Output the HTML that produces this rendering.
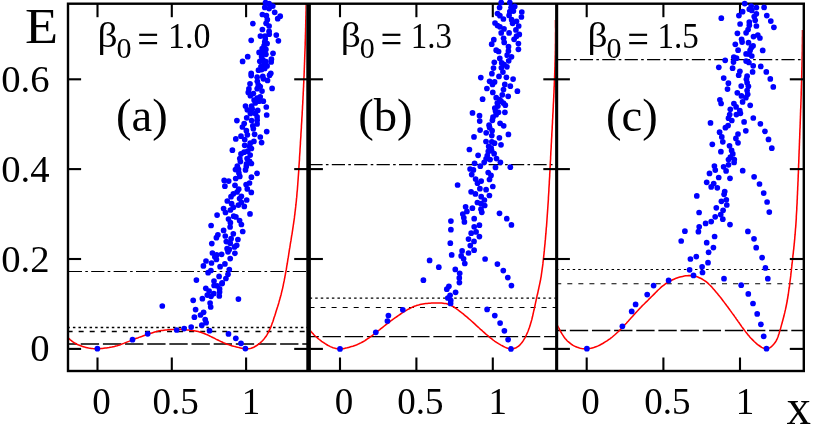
<!DOCTYPE html>
<html><head><meta charset="utf-8"><title>chart</title>
<style>
html,body{margin:0;padding:0;background:#fff;}
svg{display:block;font-family:"Liberation Serif",serif;}
</style></head><body>
<svg width="814" height="427" viewBox="0 0 814 427">
<rect x="0" y="0" width="814" height="427" fill="#fff"/>
<defs>
<clipPath id="ca"><rect x="69.0" y="3.7" width="237.4" height="367.3"/></clipPath>
<clipPath id="cb"><rect x="311.0" y="3.7" width="244.2" height="367.3"/></clipPath>
<clipPath id="cc"><rect x="558.15" y="3.7" width="244.6" height="367.3"/></clipPath>
</defs>
<line x1="68.0" y1="344.0" x2="308.6" y2="344.0" stroke="#000" stroke-width="1.35" stroke-dasharray="18.35 3.8" stroke-dashoffset="9.4"/>
<line x1="68.0" y1="331.45" x2="308.6" y2="331.45" stroke="#000" stroke-width="1.4" stroke-dasharray="5 6.05" stroke-dashoffset="0.4"/>
<line x1="68.0" y1="327.5" x2="308.6" y2="327.5" stroke="#000" stroke-width="1.4" stroke-dasharray="2.5 3.06" stroke-dashoffset="0.66"/>
<line x1="68.0" y1="271.5" x2="308.6" y2="271.5" stroke="#000" stroke-width="1.2" stroke-dasharray="13.2 3.3 2.6 3.3" stroke-dashoffset="-0.8"/>
<line x1="308.6" y1="336.6" x2="556.65" y2="336.6" stroke="#000" stroke-width="1.35" stroke-dasharray="18.35 3.8" stroke-dashoffset="8.15"/>
<line x1="308.6" y1="307.45" x2="556.65" y2="307.45" stroke="#000" stroke-width="1.15" stroke-dasharray="5 6.05" stroke-dashoffset="-0.9"/>
<line x1="308.6" y1="298.05" x2="556.65" y2="298.05" stroke="#000" stroke-width="1.15" stroke-dasharray="2.5 3.06" stroke-dashoffset="-1.04"/>
<line x1="308.6" y1="164.7" x2="556.65" y2="164.7" stroke="#000" stroke-width="1.2" stroke-dasharray="13.2 3.3 2.6 3.3" stroke-dashoffset="-0.8"/>
<line x1="556.65" y1="330.5" x2="803.8" y2="330.5" stroke="#000" stroke-width="1.35" stroke-dasharray="18.35 3.8" stroke-dashoffset="9.0"/>
<line x1="556.65" y1="283.65" x2="803.8" y2="283.65" stroke="#000" stroke-width="1.05" stroke-dasharray="5 6.05" stroke-dashoffset="0.4"/>
<line x1="556.65" y1="269.45" x2="803.8" y2="269.45" stroke="#000" stroke-width="1.05" stroke-dasharray="2.5 3.06" stroke-dashoffset="0.66"/>
<line x1="556.65" y1="59.7" x2="803.8" y2="59.7" stroke="#000" stroke-width="1.2" stroke-dasharray="13.2 3.3 2.6 3.3" stroke-dashoffset="-0.8"/>
<path d="M68.0,337.7 L69.0,338.7 L70.0,339.6 L71.1,340.5 L72.2,341.3 L73.3,342.1 L74.5,342.9 L75.7,343.5 L76.9,344.2 L78.1,344.8 L79.4,345.3 L80.7,345.8 L82.0,346.3 L83.3,346.7 L84.6,347.1 L85.9,347.4 L87.3,347.7 L88.6,348.0 L90.0,348.2 L91.4,348.4 L92.7,348.6 L94.1,348.7 L95.5,348.8 L96.8,348.8 L98.2,348.8 L99.6,348.7 L101.0,348.6 L102.3,348.5 L103.7,348.3 L105.1,348.1 L106.4,347.9 L107.8,347.7 L109.1,347.5 L110.5,347.2 L111.8,347.0 L113.2,346.7 L114.5,346.4 L115.8,346.0 L117.2,345.7 L118.5,345.3 L119.8,344.9 L121.1,344.4 L122.4,343.9 L123.7,343.4 L124.9,342.9 L126.2,342.4 L127.5,341.9 L128.8,341.4 L130.0,340.9 L131.3,340.4 L132.6,339.8 L133.9,339.3 L135.1,338.8 L136.4,338.3 L137.7,337.9 L139.0,337.4 L140.3,336.9 L141.6,336.5 L142.9,336.0 L144.2,335.5 L145.5,335.1 L146.8,334.6 L148.1,334.2 L149.4,333.7 L150.7,333.3 L152.0,332.9 L153.3,332.5 L154.6,332.1 L155.9,331.7 L157.3,331.4 L158.6,331.1 L159.9,330.8 L161.3,330.6 L162.6,330.4 L164.0,330.2 L165.4,330.0 L166.7,329.9 L168.1,329.8 L169.5,329.7 L170.9,329.5 L172.2,329.4 L173.6,329.4 L175.0,329.3 L176.3,329.2 L177.7,329.2 L179.1,329.2 L180.5,329.3 L181.8,329.4 L183.2,329.5 L184.6,329.6 L185.9,329.8 L187.3,330.0 L188.7,330.1 L190.0,330.3 L191.4,330.5 L192.8,330.6 L194.1,330.8 L195.5,331.0 L196.8,331.3 L198.2,331.6 L199.5,331.9 L200.8,332.3 L202.1,332.8 L203.4,333.2 L204.7,333.7 L205.9,334.3 L207.2,334.8 L208.5,335.4 L209.7,336.0 L211.0,336.6 L212.2,337.2 L213.4,337.8 L214.7,338.4 L215.9,339.1 L217.2,339.7 L218.4,340.3 L219.6,340.9 L220.9,341.5 L222.1,342.0 L223.4,342.6 L224.6,343.1 L225.9,343.7 L227.2,344.2 L228.5,344.6 L229.7,345.1 L231.0,345.5 L232.3,345.9 L233.7,346.3 L235.0,346.6 L236.3,346.9 L237.7,347.3 L239.0,347.6 L240.4,347.9 L241.7,348.2 L243.1,348.5 L244.5,348.7 L245.8,348.8 L247.2,348.8 L248.5,348.7 L249.9,348.5 L251.2,348.2 L252.5,347.7 L253.8,347.2 L255.0,346.5 L256.3,345.8 L257.4,345.0 L258.6,344.2 L259.7,343.3 L260.7,342.4 L261.7,341.5 L262.7,340.5 L263.6,339.5 L264.5,338.4 L265.3,337.3 L266.1,336.2 L266.8,335.1 L267.5,333.9 L268.2,332.7 L268.8,331.4 L269.4,330.2 L270.0,328.9 L270.6,327.7 L271.1,326.4 L271.6,325.1 L272.0,323.8 L272.5,322.5 L273.0,321.2 L273.4,319.9 L273.8,318.6 L274.2,317.3 L274.7,316.0 L275.1,314.7 L275.5,313.4 L275.9,312.1 L276.3,310.8 L276.7,309.5 L277.1,308.2 L277.6,306.8 L278.0,305.5 L278.4,304.2 L278.8,302.9 L279.1,301.6 L279.5,300.3 L279.9,298.9 L280.3,297.6 L280.6,296.3 L281.0,295.0 L281.3,293.6 L281.6,292.3 L281.9,291.0 L282.3,289.6 L282.6,288.3 L282.9,286.9 L283.2,285.6 L283.4,284.3 L283.7,282.9 L284.0,281.6 L284.3,280.2 L284.5,278.9 L284.8,277.5 L285.0,276.2 L285.3,274.8 L285.5,273.5 L285.8,272.1 L286.0,270.8 L286.3,269.4 L286.5,268.1 L286.7,266.7 L286.9,265.3 L287.2,264.0 L287.4,262.6 L287.6,261.3 L287.8,259.9 L288.0,258.6 L288.3,257.2 L288.5,255.8 L288.7,254.5 L288.9,253.1 L289.1,251.8 L289.3,250.4 L289.5,249.1 L289.8,247.7 L290.0,246.4 L290.2,245.0 L290.4,243.6 L290.6,242.3 L290.9,240.9 L291.1,239.6 L291.3,238.2 L291.5,236.9 L291.7,235.5 L292.0,234.2 L292.2,232.8 L292.4,231.4 L292.6,230.1 L292.8,228.7 L293.0,227.4 L293.2,226.0 L293.4,224.7 L293.6,223.3 L293.8,221.9 L294.0,220.6 L294.2,219.2 L294.4,217.9 L294.5,216.5 L294.7,215.1 L294.9,213.8 L295.0,212.4 L295.2,211.0 L295.4,209.7 L295.5,208.3 L295.7,206.9 L295.8,205.6 L296.0,204.2 L296.1,202.8 L296.3,201.5 L296.4,200.1 L296.5,198.7 L296.7,197.4 L296.8,196.0 L296.9,194.6 L297.0,193.3 L297.1,191.9 L297.3,190.5 L297.4,189.2 L297.5,187.8 L297.6,186.4 L297.7,185.1 L297.8,183.7 L297.9,182.3 L298.0,181.0 L298.1,179.6 L298.2,178.2 L298.3,176.8 L298.4,175.5 L298.5,174.1 L298.6,172.7 L298.7,171.4 L298.8,170.0 L298.9,168.6 L298.9,167.3 L299.0,165.9 L299.1,164.5 L299.2,163.1 L299.3,161.8 L299.4,160.4 L299.5,159.0 L299.5,157.7 L299.6,156.3 L299.7,154.9 L299.8,153.5 L299.9,152.2 L300.0,150.8 L300.0,149.4 L300.1,148.1 L300.2,146.7 L300.3,145.3 L300.4,143.9 L300.4,142.6 L300.5,141.2 L300.6,139.8 L300.7,138.5 L300.8,137.1 L300.9,135.7 L300.9,134.4 L301.0,133.0 L301.1,131.6 L301.2,130.2 L301.3,128.9 L301.4,127.5 L301.4,126.1 L301.5,124.8 L301.6,123.4 L301.7,122.0 L301.8,120.6 L301.8,119.3 L301.9,117.9 L302.0,116.5 L302.1,115.2 L302.2,113.8 L302.2,112.4 L302.3,111.0 L302.4,109.7 L302.5,108.3 L302.5,106.9 L302.6,105.6 L302.7,104.2 L302.8,102.8 L302.8,101.4 L302.9,100.1 L303.0,98.7 L303.0,97.3 L303.1,96.0 L303.2,94.6 L303.2,93.2 L303.3,91.8 L303.4,90.5 L303.4,89.1 L303.5,87.7 L303.6,86.4 L303.6,85.0 L303.7,83.6 L303.8,82.2 L303.8,80.9 L303.9,79.5 L303.9,78.1 L304.0,76.8 L304.1,75.4 L304.1,74.0 L304.2,72.6 L304.2,71.3 L304.3,69.9 L304.3,68.5 L304.4,67.1 L304.4,65.8 L304.5,64.4 L304.5,63.0 L304.6,61.7 L304.6,60.3 L304.7,58.9 L304.7,57.5 L304.8,56.2 L304.8,54.8 L304.9,53.4 L304.9,52.1 L305.0,50.7 L305.0,49.3 L305.1,47.9 L305.1,46.6 L305.2,45.2 L305.2,43.8 L305.2,42.4 L305.3,41.1 L305.3,39.7 L305.4,38.3 L305.4,37.0 L305.4,35.6 L305.5,34.2 L305.5,32.8 L305.6,31.5 L305.6,30.1 L305.6,28.7 L305.7,27.3 L305.7,26.0 L305.7,24.6 L305.8,23.2 L305.8,21.8 L305.8,20.5 L305.9,19.1 L305.9,17.7 L305.9,16.4 L306.0,15.0 L306.0,13.6 L306.0,12.2 L306.1,10.9 L306.1,9.5 L306.1,8.1 L306.1,6.7 L306.2,5.4 L306.2,4.0" fill="none" stroke="#f00" stroke-width="1.55" clip-path="url(#ca)"/>
<path d="M308.4,328.0 L309.2,329.2 L310.1,330.3 L311.0,331.5 L311.9,332.6 L312.9,333.6 L313.9,334.7 L314.9,335.7 L316.0,336.7 L317.1,337.6 L318.2,338.6 L319.3,339.5 L320.5,340.4 L321.6,341.3 L322.8,342.1 L324.0,342.9 L325.2,343.7 L326.5,344.5 L327.7,345.2 L329.0,345.9 L330.3,346.6 L331.6,347.1 L333.0,347.7 L334.4,348.1 L335.8,348.4 L337.2,348.7 L338.7,348.8 L340.1,348.9 L341.5,348.8 L343.0,348.7 L344.4,348.4 L345.8,348.1 L347.2,347.8 L348.6,347.4 L350.0,347.0 L351.4,346.6 L352.8,346.2 L354.2,345.7 L355.6,345.2 L356.9,344.7 L358.2,344.1 L359.5,343.5 L360.8,342.9 L362.1,342.2 L363.4,341.5 L364.6,340.8 L365.8,340.0 L367.0,339.2 L368.2,338.4 L369.4,337.6 L370.6,336.7 L371.8,335.9 L372.9,335.0 L374.1,334.1 L375.2,333.2 L376.3,332.3 L377.5,331.4 L378.6,330.5 L379.8,329.6 L380.9,328.7 L382.0,327.8 L383.2,326.9 L384.3,326.0 L385.4,325.1 L386.6,324.2 L387.7,323.3 L388.8,322.5 L390.0,321.6 L391.1,320.7 L392.3,319.8 L393.5,319.0 L394.6,318.1 L395.8,317.3 L397.0,316.5 L398.2,315.6 L399.4,314.8 L400.6,314.0 L401.8,313.2 L403.0,312.4 L404.2,311.6 L405.5,310.9 L406.7,310.1 L408.0,309.4 L409.3,308.7 L410.6,308.1 L411.9,307.4 L413.2,306.8 L414.5,306.3 L415.9,305.8 L417.2,305.3 L418.6,305.0 L420.0,304.6 L421.4,304.3 L422.9,304.0 L424.3,303.8 L425.7,303.6 L427.2,303.5 L428.6,303.3 L430.1,303.2 L431.5,303.1 L432.9,303.0 L434.4,302.9 L435.8,302.9 L437.3,302.9 L438.7,302.9 L440.2,302.9 L441.6,303.0 L443.1,303.2 L444.5,303.4 L446.0,303.6 L447.4,304.0 L448.7,304.4 L450.1,304.9 L451.4,305.6 L452.6,306.3 L453.9,307.0 L455.1,307.8 L456.3,308.7 L457.5,309.5 L458.6,310.4 L459.8,311.3 L460.9,312.2 L462.1,313.0 L463.2,313.9 L464.3,314.9 L465.4,315.8 L466.5,316.7 L467.6,317.6 L468.7,318.6 L469.8,319.5 L470.9,320.5 L472.0,321.5 L473.0,322.4 L474.1,323.4 L475.2,324.4 L476.2,325.4 L477.3,326.4 L478.4,327.3 L479.4,328.3 L480.5,329.3 L481.6,330.2 L482.7,331.2 L483.7,332.1 L484.8,333.1 L485.9,334.1 L487.0,335.0 L488.1,335.9 L489.2,336.9 L490.3,337.8 L491.5,338.7 L492.6,339.6 L493.8,340.5 L494.9,341.3 L496.1,342.1 L497.3,342.9 L498.5,343.7 L499.8,344.4 L501.0,345.1 L502.3,345.8 L503.6,346.5 L504.9,347.1 L506.3,347.7 L507.6,348.2 L509.0,348.6 L510.4,348.9 L511.9,348.9 L513.3,348.7 L514.7,348.2 L516.1,347.7 L517.4,346.9 L518.6,346.1 L519.7,345.1 L520.7,344.1 L521.6,342.9 L522.5,341.8 L523.3,340.6 L524.0,339.3 L524.8,338.1 L525.5,336.8 L526.1,335.5 L526.7,334.2 L527.3,332.9 L527.9,331.5 L528.4,330.2 L528.9,328.8 L529.4,327.5 L529.9,326.1 L530.3,324.7 L530.7,323.3 L531.1,322.0 L531.5,320.6 L531.9,319.2 L532.2,317.8 L532.6,316.3 L532.9,314.9 L533.2,313.5 L533.5,312.1 L533.8,310.7 L534.2,309.3 L534.5,307.9 L534.8,306.5 L535.1,305.0 L535.4,303.6 L535.7,302.2 L536.0,300.8 L536.3,299.4 L536.6,298.0 L536.9,296.6 L537.2,295.2 L537.6,293.8 L537.9,292.3 L538.2,290.9 L538.5,289.5 L538.8,288.1 L539.1,286.7 L539.4,285.3 L539.7,283.9 L540.0,282.5 L540.3,281.0 L540.6,279.6 L540.8,278.2 L541.1,276.8 L541.3,275.3 L541.5,273.9 L541.7,272.5 L541.9,271.1 L542.1,269.6 L542.3,268.2 L542.5,266.8 L542.7,265.3 L542.9,263.9 L543.0,262.4 L543.2,261.0 L543.3,259.6 L543.5,258.1 L543.7,256.7 L543.8,255.3 L544.0,253.8 L544.1,252.4 L544.3,250.9 L544.4,249.5 L544.5,248.1 L544.7,246.6 L544.8,245.2 L545.0,243.8 L545.1,242.3 L545.2,240.9 L545.4,239.4 L545.5,238.0 L545.6,236.6 L545.7,235.1 L545.9,233.7 L546.0,232.2 L546.1,230.8 L546.2,229.4 L546.3,227.9 L546.5,226.5 L546.6,225.0 L546.7,223.6 L546.8,222.1 L546.9,220.7 L547.0,219.3 L547.1,217.8 L547.2,216.4 L547.3,214.9 L547.4,213.5 L547.5,212.1 L547.6,210.6 L547.7,209.2 L547.8,207.7 L547.9,206.3 L548.0,204.8 L548.1,203.4 L548.2,202.0 L548.3,200.5 L548.4,199.1 L548.4,197.6 L548.5,196.2 L548.6,194.7 L548.7,193.3 L548.8,191.9 L548.9,190.4 L548.9,189.0 L549.0,187.5 L549.1,186.1 L549.2,184.6 L549.3,183.2 L549.3,181.8 L549.4,180.3 L549.5,178.9 L549.6,177.4 L549.7,176.0 L549.7,174.5 L549.8,173.1 L549.9,171.7 L550.0,170.2 L550.0,168.8 L550.1,167.3 L550.2,165.9 L550.3,164.4 L550.3,163.0 L550.4,161.5 L550.5,160.1 L550.6,158.7 L550.6,157.2 L550.7,155.8 L550.8,154.3 L550.8,152.9 L550.9,151.4 L551.0,150.0 L551.1,148.6 L551.2,147.1 L551.2,145.7 L551.3,144.2 L551.4,142.8 L551.5,141.3 L551.5,139.9 L551.6,138.5 L551.7,137.0 L551.8,135.6 L551.8,134.1 L551.9,132.7 L552.0,131.2 L552.1,129.8 L552.2,128.3 L552.2,126.9 L552.3,125.5 L552.4,124.0 L552.5,122.6 L552.5,121.1 L552.6,119.7 L552.7,118.2 L552.8,116.8 L552.8,115.4 L552.9,113.9 L553.0,112.5 L553.1,111.0 L553.1,109.6 L553.2,108.1 L553.3,106.7 L553.3,105.3 L553.4,103.8 L553.5,102.4 L553.6,100.9 L553.6,99.5 L553.7,98.0 L553.8,96.6 L553.8,95.1 L553.9,93.7 L554.0,92.3 L554.0,90.8 L554.1,89.4 L554.1,87.9 L554.2,86.5 L554.3,85.0 L554.3,83.6 L554.4,82.2 L554.4,80.7 L554.5,79.3 L554.6,77.8 L554.6,76.4 L554.7,74.9 L554.7,73.5 L554.8,72.0 L554.8,70.6 L554.9,69.2 L554.9,67.7 L555.0,66.3 L555.0,64.8 L555.0,63.4 L555.1,61.9 L555.1,60.5 L555.2,59.0 L555.2,57.6 L555.2,56.1 L555.3,54.7 L555.3,53.3 L555.3,51.8 L555.4,50.4 L555.4,48.9 L555.4,47.5 L555.4,46.0 L555.4,44.6 L555.5,43.1 L555.5,41.7 L555.5,40.2 L555.5,38.8 L555.5,37.4 L555.5,35.9 L555.5,34.5 L555.5,33.0 L555.6,31.6 L555.6,30.1 L555.6,28.7 L555.5,27.2 L555.5,25.8 L555.5,24.3 L555.5,22.9 L555.5,21.4 L555.5,20.0" fill="none" stroke="#f00" stroke-width="1.55" clip-path="url(#cb)"/>
<path d="M556.6,324.0 L557.3,325.3 L558.1,326.7 L558.8,328.0 L559.5,329.4 L560.2,330.7 L560.9,332.0 L561.7,333.4 L562.5,334.7 L563.3,335.9 L564.2,337.2 L565.1,338.4 L566.1,339.5 L567.1,340.7 L568.2,341.7 L569.4,342.7 L570.6,343.7 L571.8,344.5 L573.1,345.3 L574.5,346.1 L575.9,346.7 L577.3,347.3 L578.8,347.8 L580.2,348.2 L581.7,348.5 L583.3,348.7 L584.8,348.8 L586.3,348.8 L587.8,348.7 L589.3,348.6 L590.8,348.3 L592.3,347.9 L593.8,347.5 L595.2,347.0 L596.6,346.5 L598.1,345.9 L599.5,345.2 L600.8,344.5 L602.2,343.8 L603.5,343.0 L604.8,342.2 L606.1,341.4 L607.4,340.6 L608.6,339.7 L609.9,338.8 L611.1,337.9 L612.3,337.0 L613.4,336.0 L614.6,335.0 L615.7,334.0 L616.8,333.0 L617.9,332.0 L619.0,330.9 L620.1,329.9 L621.2,328.8 L622.2,327.7 L623.3,326.6 L624.3,325.5 L625.3,324.3 L626.4,323.2 L627.4,322.1 L628.4,321.0 L629.4,319.8 L630.4,318.7 L631.4,317.6 L632.5,316.4 L633.5,315.3 L634.5,314.2 L635.5,313.1 L636.5,311.9 L637.6,310.8 L638.6,309.7 L639.6,308.6 L640.7,307.5 L641.7,306.4 L642.8,305.3 L643.9,304.3 L644.9,303.2 L646.0,302.1 L647.1,301.1 L648.2,300.0 L649.2,298.9 L650.3,297.9 L651.4,296.8 L652.5,295.7 L653.6,294.6 L654.6,293.6 L655.7,292.5 L656.8,291.4 L657.9,290.3 L659.0,289.3 L660.1,288.2 L661.2,287.2 L662.4,286.2 L663.6,285.3 L664.8,284.4 L666.0,283.5 L667.3,282.7 L668.6,281.9 L669.9,281.2 L671.2,280.5 L672.6,279.8 L674.0,279.2 L675.4,278.6 L676.9,278.1 L678.3,277.6 L679.8,277.1 L681.2,276.7 L682.7,276.4 L684.2,276.1 L685.7,275.8 L687.2,275.7 L688.8,275.6 L690.3,275.6 L691.8,275.7 L693.3,275.9 L694.8,276.2 L696.3,276.6 L697.8,277.1 L699.2,277.7 L700.6,278.3 L702.0,279.0 L703.3,279.8 L704.5,280.6 L705.8,281.5 L707.0,282.4 L708.1,283.4 L709.2,284.5 L710.3,285.5 L711.4,286.6 L712.4,287.8 L713.4,288.9 L714.4,290.0 L715.4,291.2 L716.4,292.4 L717.4,293.5 L718.3,294.7 L719.3,295.9 L720.2,297.1 L721.2,298.3 L722.1,299.5 L723.0,300.7 L723.9,301.9 L724.8,303.1 L725.7,304.3 L726.6,305.5 L727.6,306.7 L728.5,308.0 L729.4,309.2 L730.2,310.4 L731.1,311.6 L732.0,312.9 L732.9,314.1 L733.8,315.3 L734.7,316.6 L735.6,317.8 L736.4,319.1 L737.3,320.3 L738.2,321.6 L739.1,322.8 L740.0,324.1 L740.8,325.3 L741.7,326.6 L742.6,327.8 L743.5,329.0 L744.4,330.2 L745.3,331.4 L746.2,332.6 L747.2,333.8 L748.1,334.9 L749.1,336.1 L750.0,337.2 L751.0,338.3 L752.1,339.4 L753.1,340.4 L754.2,341.5 L755.3,342.5 L756.5,343.6 L757.7,344.6 L759.0,345.5 L760.4,346.5 L761.7,347.4 L763.1,348.1 L764.5,348.6 L766.0,348.8 L767.4,348.7 L768.8,348.3 L770.1,347.6 L771.4,346.6 L772.6,345.5 L773.7,344.3 L774.7,343.1 L775.6,341.8 L776.4,340.4 L777.0,339.1 L777.6,337.7 L778.2,336.2 L778.6,334.8 L779.1,333.4 L779.5,331.9 L779.9,330.5 L780.4,329.0 L780.8,327.6 L781.2,326.1 L781.6,324.6 L782.0,323.2 L782.4,321.7 L782.8,320.2 L783.2,318.8 L783.6,317.3 L784.0,315.8 L784.3,314.4 L784.7,312.9 L785.0,311.4 L785.4,309.9 L785.7,308.4 L786.0,307.0 L786.3,305.5 L786.6,304.0 L786.9,302.5 L787.2,301.0 L787.4,299.5 L787.7,298.0 L787.9,296.5 L788.2,295.0 L788.4,293.5 L788.6,292.0 L788.8,290.5 L789.0,289.0 L789.3,287.5 L789.5,286.0 L789.7,284.5 L789.8,283.0 L790.0,281.5 L790.2,280.0 L790.4,278.5 L790.6,277.0 L790.8,275.4 L790.9,273.9 L791.1,272.4 L791.3,270.9 L791.4,269.4 L791.6,267.9 L791.8,266.4 L791.9,264.9 L792.1,263.4 L792.3,261.9 L792.4,260.4 L792.6,258.9 L792.8,257.4 L792.9,255.8 L793.1,254.3 L793.3,252.8 L793.4,251.3 L793.6,249.8 L793.8,248.3 L793.9,246.8 L794.1,245.3 L794.2,243.8 L794.4,242.3 L794.5,240.8 L794.7,239.2 L794.8,237.7 L794.9,236.2 L795.1,234.7 L795.2,233.2 L795.3,231.7 L795.4,230.2 L795.5,228.7 L795.7,227.1 L795.8,225.6 L795.9,224.1 L796.0,222.6 L796.1,221.1 L796.2,219.6 L796.3,218.1 L796.3,216.5 L796.4,215.0 L796.5,213.5 L796.6,212.0 L796.7,210.5 L796.8,209.0 L796.8,207.4 L796.9,205.9 L797.0,204.4 L797.1,202.9 L797.1,201.4 L797.2,199.9 L797.3,198.4 L797.3,196.8 L797.4,195.3 L797.5,193.8 L797.5,192.3 L797.6,190.8 L797.7,189.3 L797.7,187.7 L797.8,186.2 L797.9,184.7 L797.9,183.2 L798.0,181.7 L798.1,180.2 L798.1,178.6 L798.2,177.1 L798.2,175.6 L798.3,174.1 L798.4,172.6 L798.4,171.1 L798.5,169.5 L798.5,168.0 L798.6,166.5 L798.6,165.0 L798.7,163.5 L798.8,162.0 L798.8,160.4 L798.9,158.9 L798.9,157.4 L799.0,155.9 L799.0,154.4 L799.1,152.9 L799.1,151.3 L799.2,149.8 L799.3,148.3 L799.3,146.8 L799.4,145.3 L799.4,143.8 L799.5,142.3 L799.5,140.7 L799.6,139.2 L799.7,137.7 L799.7,136.2 L799.8,134.7 L799.8,133.2 L799.9,131.6 L799.9,130.1 L800.0,128.6 L800.1,127.1 L800.1,125.6 L800.2,124.1 L800.2,122.5 L800.3,121.0 L800.3,119.5 L800.4,118.0 L800.4,116.5 L800.5,115.0 L800.5,113.4 L800.6,111.9 L800.6,110.4 L800.7,108.9 L800.8,107.4 L800.8,105.9 L800.9,104.3 L800.9,102.8 L801.0,101.3 L801.0,99.8 L801.1,98.3 L801.1,96.8 L801.2,95.2 L801.2,93.7 L801.2,92.2 L801.3,90.7 L801.3,89.2 L801.4,87.7 L801.4,86.1 L801.5,84.6 L801.5,83.1 L801.6,81.6 L801.6,80.1 L801.6,78.6 L801.7,77.0 L801.7,75.5 L801.8,74.0 L801.8,72.5 L801.8,71.0 L801.9,69.5 L801.9,67.9 L802.0,66.4 L802.0,64.9 L802.0,63.4 L802.1,61.9 L802.1,60.3 L802.1,58.8 L802.1,57.3 L802.2,55.8 L802.2,54.3 L802.2,52.8 L802.3,51.2 L802.3,49.7 L802.3,48.2 L802.3,46.7 L802.3,45.2 L802.4,43.7 L802.4,42.1 L802.4,40.6 L802.4,39.1 L802.4,37.6 L802.5,36.1 L802.5,34.6 L802.5,33.0 L802.5,31.5 L802.5,30.0" fill="none" stroke="#f00" stroke-width="1.55" clip-path="url(#cc)"/>
<g stroke="#000" stroke-width="2.1" fill="none">
<line x1="68.0" y1="348.9" x2="81.1" y2="348.9"/>
<line x1="294.2" y1="348.9" x2="322.9" y2="348.9"/>
<line x1="543.3" y1="348.9" x2="569.9" y2="348.9"/>
<line x1="789.8" y1="348.9" x2="803.8" y2="348.9"/>
<line x1="68.0" y1="259.0" x2="81.1" y2="259.0"/>
<line x1="294.2" y1="259.0" x2="322.9" y2="259.0"/>
<line x1="543.3" y1="259.0" x2="569.9" y2="259.0"/>
<line x1="789.8" y1="259.0" x2="803.8" y2="259.0"/>
<line x1="68.0" y1="169.1" x2="81.1" y2="169.1"/>
<line x1="294.2" y1="169.1" x2="322.9" y2="169.1"/>
<line x1="543.3" y1="169.1" x2="569.9" y2="169.1"/>
<line x1="789.8" y1="169.1" x2="803.8" y2="169.1"/>
<line x1="68.0" y1="79.3" x2="81.1" y2="79.3"/>
<line x1="294.2" y1="79.3" x2="322.9" y2="79.3"/>
<line x1="543.3" y1="79.3" x2="569.9" y2="79.3"/>
<line x1="789.8" y1="79.3" x2="803.8" y2="79.3"/>
<line x1="97.5" y1="371.0" x2="97.5" y2="357.5"/>
<line x1="97.5" y1="3.7" x2="97.5" y2="17.2"/>
<line x1="171.8" y1="371.0" x2="171.8" y2="357.5"/>
<line x1="171.8" y1="3.7" x2="171.8" y2="17.2"/>
<line x1="246.1" y1="371.0" x2="246.1" y2="357.5"/>
<line x1="246.1" y1="3.7" x2="246.1" y2="17.2"/>
<line x1="340.0" y1="371.0" x2="340.0" y2="357.5"/>
<line x1="340.0" y1="3.7" x2="340.0" y2="17.2"/>
<line x1="416.4" y1="371.0" x2="416.4" y2="357.5"/>
<line x1="416.4" y1="3.7" x2="416.4" y2="17.2"/>
<line x1="492.8" y1="371.0" x2="492.8" y2="357.5"/>
<line x1="492.8" y1="3.7" x2="492.8" y2="17.2"/>
<line x1="586.7" y1="371.0" x2="586.7" y2="357.5"/>
<line x1="586.7" y1="3.7" x2="586.7" y2="17.2"/>
<line x1="663.4" y1="371.0" x2="663.4" y2="357.5"/>
<line x1="663.4" y1="3.7" x2="663.4" y2="17.2"/>
<line x1="740.0" y1="371.0" x2="740.0" y2="357.5"/>
<line x1="740.0" y1="3.7" x2="740.0" y2="17.2"/>
</g>
<rect x="68.0" y="3.7" width="735.8" height="367.3" fill="none" stroke="#000" stroke-width="2.4"/>
<line x1="308.6" y1="3.7" x2="308.6" y2="371.0" stroke="#000" stroke-width="4.6"/>
<line x1="556.65" y1="3.7" x2="556.65" y2="371.0" stroke="#000" stroke-width="3.1"/>
<g fill="#00f">
<circle cx="97.4" cy="348.7" r="2.85"/>
<circle cx="132.5" cy="339.7" r="2.85"/>
<circle cx="147.7" cy="333.8" r="2.85"/>
<circle cx="162.3" cy="306.0" r="2.85"/>
<circle cx="176.7" cy="330.0" r="2.85"/>
<circle cx="184.1" cy="328.6" r="2.85"/>
<circle cx="191.2" cy="327.1" r="2.85"/>
<circle cx="209.5" cy="330.7" r="2.85"/>
<circle cx="228.5" cy="333.9" r="2.85"/>
<circle cx="235.8" cy="338.3" r="2.85"/>
<circle cx="241.0" cy="343.3" r="2.85"/>
<circle cx="245.4" cy="348.6" r="2.85"/>
<circle cx="238.4" cy="299.1" r="2.85"/>
<circle cx="193.2" cy="300.3" r="2.85"/>
<circle cx="195.6" cy="309.6" r="2.85"/>
<circle cx="194.4" cy="317.2" r="2.85"/>
<circle cx="200.5" cy="315.0" r="2.85"/>
<circle cx="203.6" cy="312.3" r="2.85"/>
<circle cx="201.8" cy="325.2" r="2.85"/>
<circle cx="205.2" cy="319.6" r="2.85"/>
<circle cx="206.1" cy="322.7" r="2.85"/>
<circle cx="202.4" cy="298.7" r="2.85"/>
<circle cx="210.1" cy="303.0" r="2.85"/>
<circle cx="210.7" cy="307.0" r="2.85"/>
<circle cx="205.8" cy="288.3" r="2.85"/>
<circle cx="209.1" cy="291.1" r="2.85"/>
<circle cx="207.3" cy="295.1" r="2.85"/>
<circle cx="211.0" cy="296.3" r="2.85"/>
<circle cx="213.8" cy="293.6" r="2.85"/>
<circle cx="219.3" cy="296.0" r="2.85"/>
<circle cx="219.6" cy="292.0" r="2.85"/>
<circle cx="219.6" cy="288.9" r="2.85"/>
<circle cx="214.1" cy="285.5" r="2.85"/>
<circle cx="217.1" cy="285.8" r="2.85"/>
<circle cx="222.0" cy="283.6" r="2.85"/>
<circle cx="196.4" cy="280.1" r="2.85"/>
<circle cx="214.0" cy="281.1" r="2.85"/>
<circle cx="222.2" cy="282.9" r="2.85"/>
<circle cx="219.1" cy="276.4" r="2.85"/>
<circle cx="225.9" cy="278.5" r="2.85"/>
<circle cx="228.0" cy="274.3" r="2.85"/>
<circle cx="229.3" cy="269.6" r="2.85"/>
<circle cx="208.1" cy="272.7" r="2.85"/>
<circle cx="210.9" cy="270.5" r="2.85"/>
<circle cx="203.4" cy="265.9" r="2.85"/>
<circle cx="206.0" cy="261.0" r="2.85"/>
<circle cx="211.5" cy="263.0" r="2.85"/>
<circle cx="220.1" cy="266.7" r="2.85"/>
<circle cx="224.9" cy="263.9" r="2.85"/>
<circle cx="230.2" cy="258.6" r="2.85"/>
<circle cx="216.4" cy="259.4" r="2.85"/>
<circle cx="214.8" cy="256.7" r="2.85"/>
<circle cx="216.7" cy="254.9" r="2.85"/>
<circle cx="212.4" cy="253.0" r="2.85"/>
<circle cx="221.6" cy="254.3" r="2.85"/>
<circle cx="211.8" cy="243.6" r="2.85"/>
<circle cx="228.0" cy="251.8" r="2.85"/>
<circle cx="227.1" cy="248.7" r="2.85"/>
<circle cx="229.3" cy="249.4" r="2.85"/>
<circle cx="234.9" cy="253.3" r="2.85"/>
<circle cx="234.5" cy="246.9" r="2.85"/>
<circle cx="236.7" cy="245.3" r="2.85"/>
<circle cx="226.3" cy="241.6" r="2.85"/>
<circle cx="230.2" cy="243.2" r="2.85"/>
<circle cx="231.1" cy="238.7" r="2.85"/>
<circle cx="237.9" cy="239.5" r="2.85"/>
<circle cx="225.3" cy="236.0" r="2.85"/>
<circle cx="216.4" cy="237.7" r="2.85"/>
<circle cx="217.9" cy="234.8" r="2.85"/>
<circle cx="233.3" cy="233.8" r="2.85"/>
<circle cx="211.1" cy="225.5" r="2.85"/>
<circle cx="217.1" cy="215.1" r="2.85"/>
<circle cx="223.6" cy="230.4" r="2.85"/>
<circle cx="230.1" cy="227.0" r="2.85"/>
<circle cx="242.7" cy="231.5" r="2.85"/>
<circle cx="228.5" cy="219.0" r="2.85"/>
<circle cx="230.4" cy="222.7" r="2.85"/>
<circle cx="233.7" cy="216.2" r="2.85"/>
<circle cx="235.9" cy="216.9" r="2.85"/>
<circle cx="239.6" cy="220.6" r="2.85"/>
<circle cx="241.4" cy="224.5" r="2.85"/>
<circle cx="250.0" cy="213.9" r="2.85"/>
<circle cx="223.6" cy="208.6" r="2.85"/>
<circle cx="225.5" cy="212.5" r="2.85"/>
<circle cx="230.4" cy="210.0" r="2.85"/>
<circle cx="233.4" cy="207.3" r="2.85"/>
<circle cx="231.6" cy="203.7" r="2.85"/>
<circle cx="227.3" cy="201.0" r="2.85"/>
<circle cx="238.4" cy="205.1" r="2.85"/>
<circle cx="244.3" cy="206.4" r="2.85"/>
<circle cx="241.4" cy="202.4" r="2.85"/>
<circle cx="246.7" cy="200.0" r="2.85"/>
<circle cx="239.6" cy="198.5" r="2.85"/>
<circle cx="241.4" cy="196.3" r="2.85"/>
<circle cx="231.0" cy="196.7" r="2.85"/>
<circle cx="233.4" cy="193.8" r="2.85"/>
<circle cx="237.1" cy="192.0" r="2.85"/>
<circle cx="238.7" cy="189.2" r="2.85"/>
<circle cx="224.9" cy="186.2" r="2.85"/>
<circle cx="235.0" cy="185.3" r="2.85"/>
<circle cx="247.3" cy="188.9" r="2.85"/>
<circle cx="251.3" cy="192.4" r="2.85"/>
<circle cx="246.1" cy="184.5" r="2.85"/>
<circle cx="249.5" cy="183.0" r="2.85"/>
<circle cx="224.2" cy="180.4" r="2.85"/>
<circle cx="228.7" cy="181.1" r="2.85"/>
<circle cx="235.7" cy="178.5" r="2.85"/>
<circle cx="251.4" cy="177.2" r="2.85"/>
<circle cx="257.0" cy="173.3" r="2.85"/>
<circle cx="239.8" cy="176.4" r="2.85"/>
<circle cx="238.9" cy="173.1" r="2.85"/>
<circle cx="235.5" cy="169.6" r="2.85"/>
<circle cx="238.5" cy="169.4" r="2.85"/>
<circle cx="237.3" cy="166.2" r="2.85"/>
<circle cx="245.5" cy="169.9" r="2.85"/>
<circle cx="246.3" cy="166.6" r="2.85"/>
<circle cx="246.5" cy="163.9" r="2.85"/>
<circle cx="251.4" cy="163.5" r="2.85"/>
<circle cx="249.6" cy="161.3" r="2.85"/>
<circle cx="240.4" cy="161.6" r="2.85"/>
<circle cx="239.8" cy="158.6" r="2.85"/>
<circle cx="247.1" cy="158.6" r="2.85"/>
<circle cx="250.2" cy="155.1" r="2.85"/>
<circle cx="241.0" cy="153.9" r="2.85"/>
<circle cx="244.1" cy="152.2" r="2.85"/>
<circle cx="247.7" cy="151.2" r="2.85"/>
<circle cx="232.4" cy="150.2" r="2.85"/>
<circle cx="251.4" cy="148.5" r="2.85"/>
<circle cx="249.6" cy="146.3" r="2.85"/>
<circle cx="244.7" cy="145.3" r="2.85"/>
<circle cx="250.2" cy="143.2" r="2.85"/>
<circle cx="253.9" cy="141.4" r="2.85"/>
<circle cx="261.6" cy="142.6" r="2.85"/>
<circle cx="260.3" cy="137.0" r="2.85"/>
<circle cx="235.8" cy="138.9" r="2.85"/>
<circle cx="241.0" cy="136.2" r="2.85"/>
<circle cx="244.7" cy="139.5" r="2.85"/>
<circle cx="247.4" cy="134.8" r="2.85"/>
<circle cx="254.6" cy="134.3" r="2.85"/>
<circle cx="266.7" cy="131.6" r="2.85"/>
<circle cx="236.9" cy="120.6" r="2.85"/>
<circle cx="242.4" cy="127.0" r="2.85"/>
<circle cx="244.2" cy="123.6" r="2.85"/>
<circle cx="246.4" cy="130.7" r="2.85"/>
<circle cx="253.4" cy="128.8" r="2.85"/>
<circle cx="252.8" cy="125.8" r="2.85"/>
<circle cx="257.1" cy="123.9" r="2.85"/>
<circle cx="251.6" cy="120.6" r="2.85"/>
<circle cx="257.1" cy="120.2" r="2.85"/>
<circle cx="246.7" cy="117.8" r="2.85"/>
<circle cx="257.1" cy="116.9" r="2.85"/>
<circle cx="266.7" cy="115.0" r="2.85"/>
<circle cx="250.4" cy="113.5" r="2.85"/>
<circle cx="255.3" cy="113.5" r="2.85"/>
<circle cx="257.7" cy="110.4" r="2.85"/>
<circle cx="247.3" cy="109.8" r="2.85"/>
<circle cx="252.2" cy="109.2" r="2.85"/>
<circle cx="245.5" cy="106.1" r="2.85"/>
<circle cx="251.6" cy="106.1" r="2.85"/>
<circle cx="266.3" cy="107.0" r="2.85"/>
<circle cx="255.3" cy="103.0" r="2.85"/>
<circle cx="254.1" cy="100.0" r="2.85"/>
<circle cx="259.0" cy="101.2" r="2.85"/>
<circle cx="263.3" cy="101.2" r="2.85"/>
<circle cx="260.2" cy="96.9" r="2.85"/>
<circle cx="257.1" cy="98.1" r="2.85"/>
<circle cx="250.4" cy="95.7" r="2.85"/>
<circle cx="253.4" cy="93.6" r="2.85"/>
<circle cx="248.3" cy="92.4" r="2.85"/>
<circle cx="248.9" cy="88.9" r="2.85"/>
<circle cx="262.0" cy="91.1" r="2.85"/>
<circle cx="257.1" cy="88.7" r="2.85"/>
<circle cx="260.2" cy="86.5" r="2.85"/>
<circle cx="258.3" cy="84.8" r="2.85"/>
<circle cx="250.0" cy="83.8" r="2.85"/>
<circle cx="272.1" cy="88.4" r="2.85"/>
<circle cx="242.6" cy="61.4" r="2.85"/>
<circle cx="247.7" cy="56.7" r="2.85"/>
<circle cx="251.2" cy="40.3" r="2.85"/>
<circle cx="251.2" cy="73.3" r="2.85"/>
<circle cx="251.2" cy="75.6" r="2.85"/>
<circle cx="257.1" cy="77.2" r="2.85"/>
<circle cx="257.3" cy="81.3" r="2.85"/>
<circle cx="262.8" cy="76.4" r="2.85"/>
<circle cx="263.4" cy="78.8" r="2.85"/>
<circle cx="267.5" cy="80.4" r="2.85"/>
<circle cx="269.6" cy="75.2" r="2.85"/>
<circle cx="270.8" cy="73.3" r="2.85"/>
<circle cx="258.5" cy="70.2" r="2.85"/>
<circle cx="261.6" cy="69.6" r="2.85"/>
<circle cx="261.0" cy="66.6" r="2.85"/>
<circle cx="264.7" cy="68.4" r="2.85"/>
<circle cx="267.1" cy="65.9" r="2.85"/>
<circle cx="264.1" cy="63.5" r="2.85"/>
<circle cx="259.8" cy="61.3" r="2.85"/>
<circle cx="262.8" cy="59.8" r="2.85"/>
<circle cx="265.9" cy="61.6" r="2.85"/>
<circle cx="271.4" cy="59.2" r="2.85"/>
<circle cx="271.2" cy="62.0" r="2.85"/>
<circle cx="261.6" cy="56.7" r="2.85"/>
<circle cx="259.1" cy="52.4" r="2.85"/>
<circle cx="262.8" cy="53.0" r="2.85"/>
<circle cx="265.9" cy="54.3" r="2.85"/>
<circle cx="273.0" cy="53.3" r="2.85"/>
<circle cx="262.2" cy="48.7" r="2.85"/>
<circle cx="265.9" cy="49.4" r="2.85"/>
<circle cx="264.1" cy="45.7" r="2.85"/>
<circle cx="267.1" cy="43.6" r="2.85"/>
<circle cx="264.7" cy="42.0" r="2.85"/>
<circle cx="265.3" cy="38.9" r="2.85"/>
<circle cx="260.4" cy="36.1" r="2.85"/>
<circle cx="265.0" cy="36.0" r="2.85"/>
<circle cx="269.2" cy="34.2" r="2.85"/>
<circle cx="276.3" cy="35.1" r="2.85"/>
<circle cx="278.4" cy="40.8" r="2.85"/>
<circle cx="252.9" cy="23.6" r="2.85"/>
<circle cx="262.4" cy="29.5" r="2.85"/>
<circle cx="269.1" cy="31.3" r="2.85"/>
<circle cx="269.1" cy="26.0" r="2.85"/>
<circle cx="266.1" cy="23.3" r="2.85"/>
<circle cx="267.3" cy="19.7" r="2.85"/>
<circle cx="262.4" cy="14.5" r="2.85"/>
<circle cx="266.4" cy="15.7" r="2.85"/>
<circle cx="277.7" cy="18.7" r="2.85"/>
<circle cx="280.2" cy="16.2" r="2.85"/>
<circle cx="274.7" cy="12.3" r="2.85"/>
<circle cx="264.8" cy="7.4" r="2.85"/>
<circle cx="269.1" cy="8.6" r="2.85"/>
<circle cx="272.8" cy="6.1" r="2.85"/>
<circle cx="265.5" cy="2.5" r="2.85"/>
<circle cx="269.1" cy="3.7" r="2.85"/>
</g>
<g fill="#00f">
<circle cx="340.0" cy="348.9" r="2.85"/>
<circle cx="375.8" cy="332.3" r="2.85"/>
<circle cx="387.4" cy="321.0" r="2.85"/>
<circle cx="388.4" cy="315.6" r="2.85"/>
<circle cx="402.8" cy="309.8" r="2.85"/>
<circle cx="487.1" cy="309.4" r="2.85"/>
<circle cx="494.8" cy="315.6" r="2.85"/>
<circle cx="500.1" cy="323.1" r="2.85"/>
<circle cx="504.4" cy="330.8" r="2.85"/>
<circle cx="508.1" cy="339.6" r="2.85"/>
<circle cx="510.9" cy="348.9" r="2.85"/>
<circle cx="450.6" cy="303.4" r="2.85"/>
<circle cx="423.4" cy="280.2" r="2.85"/>
<circle cx="429.6" cy="260.4" r="2.85"/>
<circle cx="438.8" cy="267.2" r="2.85"/>
<circle cx="451.7" cy="254.9" r="2.85"/>
<circle cx="455.3" cy="269.4" r="2.85"/>
<circle cx="459.7" cy="273.3" r="2.85"/>
<circle cx="459.3" cy="277.9" r="2.85"/>
<circle cx="459.4" cy="282.6" r="2.85"/>
<circle cx="448.9" cy="286.3" r="2.85"/>
<circle cx="446.8" cy="289.2" r="2.85"/>
<circle cx="455.6" cy="292.3" r="2.85"/>
<circle cx="450.1" cy="295.3" r="2.85"/>
<circle cx="447.8" cy="298.0" r="2.85"/>
<circle cx="450.7" cy="300.4" r="2.85"/>
<circle cx="461.2" cy="255.9" r="2.85"/>
<circle cx="463.6" cy="258.8" r="2.85"/>
<circle cx="464.8" cy="263.5" r="2.85"/>
<circle cx="462.1" cy="250.9" r="2.85"/>
<circle cx="468.5" cy="253.0" r="2.85"/>
<circle cx="474.1" cy="250.2" r="2.85"/>
<circle cx="485.1" cy="259.0" r="2.85"/>
<circle cx="497.4" cy="264.1" r="2.85"/>
<circle cx="503.3" cy="270.6" r="2.85"/>
<circle cx="507.8" cy="277.6" r="2.85"/>
<circle cx="511.4" cy="285.6" r="2.85"/>
<circle cx="450.9" cy="221.1" r="2.85"/>
<circle cx="450.9" cy="229.7" r="2.85"/>
<circle cx="450.3" cy="243.2" r="2.85"/>
<circle cx="470.3" cy="245.6" r="2.85"/>
<circle cx="474.0" cy="241.4" r="2.85"/>
<circle cx="468.5" cy="239.1" r="2.85"/>
<circle cx="479.4" cy="236.6" r="2.85"/>
<circle cx="471.2" cy="233.2" r="2.85"/>
<circle cx="476.1" cy="231.9" r="2.85"/>
<circle cx="474.2" cy="226.8" r="2.85"/>
<circle cx="479.4" cy="225.2" r="2.85"/>
<circle cx="474.2" cy="218.7" r="2.85"/>
<circle cx="464.4" cy="221.9" r="2.85"/>
<circle cx="463.8" cy="217.8" r="2.85"/>
<circle cx="462.8" cy="214.1" r="2.85"/>
<circle cx="466.9" cy="211.4" r="2.85"/>
<circle cx="465.6" cy="206.8" r="2.85"/>
<circle cx="472.4" cy="208.2" r="2.85"/>
<circle cx="481.8" cy="212.3" r="2.85"/>
<circle cx="481.0" cy="209.2" r="2.85"/>
<circle cx="484.7" cy="205.5" r="2.85"/>
<circle cx="477.4" cy="202.5" r="2.85"/>
<circle cx="481.0" cy="203.7" r="2.85"/>
<circle cx="484.4" cy="200.0" r="2.85"/>
<circle cx="499.5" cy="213.3" r="2.85"/>
<circle cx="506.8" cy="218.7" r="2.85"/>
<circle cx="511.4" cy="224.9" r="2.85"/>
<circle cx="457.6" cy="185.0" r="2.85"/>
<circle cx="471.1" cy="191.8" r="2.85"/>
<circle cx="475.4" cy="193.9" r="2.85"/>
<circle cx="481.2" cy="196.7" r="2.85"/>
<circle cx="489.4" cy="195.5" r="2.85"/>
<circle cx="479.9" cy="188.7" r="2.85"/>
<circle cx="486.1" cy="189.7" r="2.85"/>
<circle cx="492.8" cy="186.5" r="2.85"/>
<circle cx="477.5" cy="183.2" r="2.85"/>
<circle cx="481.2" cy="181.1" r="2.85"/>
<circle cx="475.6" cy="179.1" r="2.85"/>
<circle cx="489.5" cy="179.5" r="2.85"/>
<circle cx="471.7" cy="174.6" r="2.85"/>
<circle cx="491.0" cy="175.4" r="2.85"/>
<circle cx="488.2" cy="172.5" r="2.85"/>
<circle cx="470.1" cy="169.0" r="2.85"/>
<circle cx="473.4" cy="169.9" r="2.85"/>
<circle cx="480.3" cy="166.2" r="2.85"/>
<circle cx="495.5" cy="167.4" r="2.85"/>
<circle cx="510.3" cy="167.2" r="2.85"/>
<circle cx="474.6" cy="163.3" r="2.85"/>
<circle cx="484.2" cy="162.3" r="2.85"/>
<circle cx="500.4" cy="162.3" r="2.85"/>
<circle cx="486.1" cy="158.8" r="2.85"/>
<circle cx="490.1" cy="159.6" r="2.85"/>
<circle cx="496.5" cy="158.6" r="2.85"/>
<circle cx="478.1" cy="155.3" r="2.85"/>
<circle cx="487.3" cy="155.5" r="2.85"/>
<circle cx="494.1" cy="153.7" r="2.85"/>
<circle cx="488.3" cy="151.4" r="2.85"/>
<circle cx="491.6" cy="150.6" r="2.85"/>
<circle cx="469.4" cy="149.5" r="2.85"/>
<circle cx="474.0" cy="136.9" r="2.85"/>
<circle cx="480.1" cy="130.1" r="2.85"/>
<circle cx="472.5" cy="112.9" r="2.85"/>
<circle cx="479.5" cy="115.7" r="2.85"/>
<circle cx="479.7" cy="121.1" r="2.85"/>
<circle cx="486.0" cy="141.5" r="2.85"/>
<circle cx="488.7" cy="146.4" r="2.85"/>
<circle cx="491.2" cy="148.0" r="2.85"/>
<circle cx="491.8" cy="141.8" r="2.85"/>
<circle cx="494.5" cy="143.2" r="2.85"/>
<circle cx="501.0" cy="144.8" r="2.85"/>
<circle cx="499.4" cy="137.8" r="2.85"/>
<circle cx="491.8" cy="135.6" r="2.85"/>
<circle cx="486.2" cy="132.8" r="2.85"/>
<circle cx="492.1" cy="130.7" r="2.85"/>
<circle cx="508.4" cy="134.4" r="2.85"/>
<circle cx="489.1" cy="125.2" r="2.85"/>
<circle cx="489.6" cy="127.6" r="2.85"/>
<circle cx="500.1" cy="123.3" r="2.85"/>
<circle cx="503.7" cy="125.8" r="2.85"/>
<circle cx="492.4" cy="120.3" r="2.85"/>
<circle cx="493.0" cy="117.2" r="2.85"/>
<circle cx="496.1" cy="114.7" r="2.85"/>
<circle cx="498.5" cy="112.3" r="2.85"/>
<circle cx="495.5" cy="111.1" r="2.85"/>
<circle cx="504.9" cy="112.3" r="2.85"/>
<circle cx="494.8" cy="108.0" r="2.85"/>
<circle cx="497.9" cy="106.1" r="2.85"/>
<circle cx="497.3" cy="103.1" r="2.85"/>
<circle cx="501.0" cy="101.2" r="2.85"/>
<circle cx="505.3" cy="105.2" r="2.85"/>
<circle cx="503.4" cy="103.1" r="2.85"/>
<circle cx="482.6" cy="99.2" r="2.85"/>
<circle cx="486.9" cy="88.5" r="2.85"/>
<circle cx="480.8" cy="77.6" r="2.85"/>
<circle cx="492.8" cy="92.4" r="2.85"/>
<circle cx="496.2" cy="97.7" r="2.85"/>
<circle cx="499.6" cy="99.6" r="2.85"/>
<circle cx="502.3" cy="94.8" r="2.85"/>
<circle cx="508.2" cy="96.3" r="2.85"/>
<circle cx="503.5" cy="89.6" r="2.85"/>
<circle cx="517.4" cy="91.2" r="2.85"/>
<circle cx="510.3" cy="86.2" r="2.85"/>
<circle cx="504.8" cy="84.4" r="2.85"/>
<circle cx="489.6" cy="81.3" r="2.85"/>
<circle cx="492.5" cy="84.4" r="2.85"/>
<circle cx="494.6" cy="81.9" r="2.85"/>
<circle cx="491.9" cy="73.7" r="2.85"/>
<circle cx="499.0" cy="76.4" r="2.85"/>
<circle cx="506.4" cy="77.3" r="2.85"/>
<circle cx="513.1" cy="79.1" r="2.85"/>
<circle cx="502.9" cy="72.1" r="2.85"/>
<circle cx="493.5" cy="68.1" r="2.85"/>
<circle cx="501.4" cy="67.8" r="2.85"/>
<circle cx="507.0" cy="66.8" r="2.85"/>
<circle cx="494.3" cy="62.3" r="2.85"/>
<circle cx="501.7" cy="62.9" r="2.85"/>
<circle cx="504.1" cy="64.7" r="2.85"/>
<circle cx="508.7" cy="60.8" r="2.85"/>
<circle cx="499.8" cy="58.4" r="2.85"/>
<circle cx="511.5" cy="56.8" r="2.85"/>
<circle cx="507.2" cy="55.2" r="2.85"/>
<circle cx="498.6" cy="51.5" r="2.85"/>
<circle cx="508.4" cy="51.0" r="2.85"/>
<circle cx="518.4" cy="49.3" r="2.85"/>
<circle cx="496.2" cy="50.2" r="2.85"/>
<circle cx="491.7" cy="44.2" r="2.85"/>
<circle cx="493.8" cy="39.7" r="2.85"/>
<circle cx="503.6" cy="38.3" r="2.85"/>
<circle cx="504.2" cy="42.4" r="2.85"/>
<circle cx="508.5" cy="46.7" r="2.85"/>
<circle cx="518.4" cy="43.6" r="2.85"/>
<circle cx="514.1" cy="39.3" r="2.85"/>
<circle cx="516.5" cy="36.2" r="2.85"/>
<circle cx="519.3" cy="34.4" r="2.85"/>
<circle cx="501.2" cy="32.9" r="2.85"/>
<circle cx="509.1" cy="32.9" r="2.85"/>
<circle cx="515.9" cy="29.9" r="2.85"/>
<circle cx="518.7" cy="26.0" r="2.85"/>
<circle cx="495.0" cy="23.0" r="2.85"/>
<circle cx="497.5" cy="25.5" r="2.85"/>
<circle cx="499.9" cy="26.8" r="2.85"/>
<circle cx="504.0" cy="28.9" r="2.85"/>
<circle cx="512.6" cy="23.3" r="2.85"/>
<circle cx="516.5" cy="21.3" r="2.85"/>
<circle cx="503.4" cy="19.0" r="2.85"/>
<circle cx="497.5" cy="13.5" r="2.85"/>
<circle cx="499.9" cy="15.7" r="2.85"/>
<circle cx="509.1" cy="15.4" r="2.85"/>
<circle cx="511.6" cy="19.7" r="2.85"/>
<circle cx="521.4" cy="17.0" r="2.85"/>
<circle cx="521.8" cy="12.0" r="2.85"/>
<circle cx="509.8" cy="11.7" r="2.85"/>
<circle cx="513.4" cy="11.1" r="2.85"/>
<circle cx="499.6" cy="7.6" r="2.85"/>
<circle cx="511.0" cy="7.4" r="2.85"/>
<circle cx="514.7" cy="6.4" r="2.85"/>
<circle cx="501.2" cy="2.5" r="2.85"/>
<circle cx="509.8" cy="2.5" r="2.85"/>
</g>
<g fill="#00f">
<circle cx="586.9" cy="348.7" r="2.85"/>
<circle cx="622.4" cy="326.3" r="2.85"/>
<circle cx="631.7" cy="311.4" r="2.85"/>
<circle cx="635.6" cy="304.4" r="2.85"/>
<circle cx="647.2" cy="294.6" r="2.85"/>
<circle cx="653.6" cy="285.6" r="2.85"/>
<circle cx="668.6" cy="280.4" r="2.85"/>
<circle cx="741.2" cy="285.2" r="2.85"/>
<circle cx="748.3" cy="293.9" r="2.85"/>
<circle cx="753.0" cy="303.5" r="2.85"/>
<circle cx="757.2" cy="313.9" r="2.85"/>
<circle cx="760.9" cy="324.3" r="2.85"/>
<circle cx="763.7" cy="336.3" r="2.85"/>
<circle cx="766.5" cy="348.7" r="2.85"/>
<circle cx="681.2" cy="241.0" r="2.85"/>
<circle cx="684.9" cy="231.2" r="2.85"/>
<circle cx="698.4" cy="231.7" r="2.85"/>
<circle cx="690.4" cy="259.0" r="2.85"/>
<circle cx="696.3" cy="256.6" r="2.85"/>
<circle cx="689.6" cy="269.8" r="2.85"/>
<circle cx="693.5" cy="275.4" r="2.85"/>
<circle cx="702.1" cy="266.8" r="2.85"/>
<circle cx="702.5" cy="272.5" r="2.85"/>
<circle cx="708.0" cy="262.7" r="2.85"/>
<circle cx="708.6" cy="252.3" r="2.85"/>
<circle cx="713.4" cy="247.6" r="2.85"/>
<circle cx="706.7" cy="242.7" r="2.85"/>
<circle cx="714.6" cy="236.5" r="2.85"/>
<circle cx="724.0" cy="278.7" r="2.85"/>
<circle cx="747.9" cy="231.4" r="2.85"/>
<circle cx="754.0" cy="238.8" r="2.85"/>
<circle cx="756.2" cy="247.7" r="2.85"/>
<circle cx="762.1" cy="257.6" r="2.85"/>
<circle cx="765.4" cy="267.9" r="2.85"/>
<circle cx="767.8" cy="278.7" r="2.85"/>
<circle cx="699.2" cy="226.8" r="2.85"/>
<circle cx="705.6" cy="223.4" r="2.85"/>
<circle cx="711.2" cy="221.6" r="2.85"/>
<circle cx="715.2" cy="216.8" r="2.85"/>
<circle cx="699.1" cy="212.5" r="2.85"/>
<circle cx="696.8" cy="195.9" r="2.85"/>
<circle cx="716.3" cy="207.8" r="2.85"/>
<circle cx="720.7" cy="214.6" r="2.85"/>
<circle cx="722.8" cy="219.2" r="2.85"/>
<circle cx="723.1" cy="210.3" r="2.85"/>
<circle cx="730.0" cy="224.6" r="2.85"/>
<circle cx="726.8" cy="205.0" r="2.85"/>
<circle cx="721.4" cy="201.3" r="2.85"/>
<circle cx="726.3" cy="199.8" r="2.85"/>
<circle cx="724.1" cy="194.3" r="2.85"/>
<circle cx="724.7" cy="191.6" r="2.85"/>
<circle cx="717.3" cy="187.8" r="2.85"/>
<circle cx="711.2" cy="186.9" r="2.85"/>
<circle cx="713.7" cy="183.6" r="2.85"/>
<circle cx="706.7" cy="182.3" r="2.85"/>
<circle cx="759.5" cy="184.0" r="2.85"/>
<circle cx="763.7" cy="193.1" r="2.85"/>
<circle cx="767.1" cy="202.0" r="2.85"/>
<circle cx="769.3" cy="212.1" r="2.85"/>
<circle cx="709.5" cy="173.4" r="2.85"/>
<circle cx="718.7" cy="177.5" r="2.85"/>
<circle cx="730.0" cy="178.3" r="2.85"/>
<circle cx="714.4" cy="166.0" r="2.85"/>
<circle cx="715.3" cy="170.1" r="2.85"/>
<circle cx="723.6" cy="166.8" r="2.85"/>
<circle cx="726.1" cy="170.9" r="2.85"/>
<circle cx="728.5" cy="164.8" r="2.85"/>
<circle cx="742.7" cy="170.7" r="2.85"/>
<circle cx="754.1" cy="176.8" r="2.85"/>
<circle cx="728.5" cy="159.6" r="2.85"/>
<circle cx="730.4" cy="157.2" r="2.85"/>
<circle cx="734.3" cy="159.6" r="2.85"/>
<circle cx="734.1" cy="162.5" r="2.85"/>
<circle cx="732.8" cy="153.9" r="2.85"/>
<circle cx="731.6" cy="150.4" r="2.85"/>
<circle cx="729.5" cy="145.8" r="2.85"/>
<circle cx="720.9" cy="151.7" r="2.85"/>
<circle cx="712.3" cy="144.3" r="2.85"/>
<circle cx="722.8" cy="141.8" r="2.85"/>
<circle cx="721.8" cy="136.9" r="2.85"/>
<circle cx="719.6" cy="132.2" r="2.85"/>
<circle cx="738.0" cy="142.8" r="2.85"/>
<circle cx="735.9" cy="138.4" r="2.85"/>
<circle cx="738.0" cy="134.0" r="2.85"/>
<circle cx="745.8" cy="130.8" r="2.85"/>
<circle cx="764.9" cy="131.3" r="2.85"/>
<circle cx="768.5" cy="139.4" r="2.85"/>
<circle cx="771.8" cy="148.2" r="2.85"/>
<circle cx="710.5" cy="122.9" r="2.85"/>
<circle cx="725.4" cy="127.7" r="2.85"/>
<circle cx="728.1" cy="125.6" r="2.85"/>
<circle cx="760.4" cy="123.8" r="2.85"/>
<circle cx="753.3" cy="118.0" r="2.85"/>
<circle cx="744.1" cy="121.9" r="2.85"/>
<circle cx="731.8" cy="120.5" r="2.85"/>
<circle cx="728.5" cy="118.2" r="2.85"/>
<circle cx="729.7" cy="114.6" r="2.85"/>
<circle cx="736.4" cy="114.6" r="2.85"/>
<circle cx="740.4" cy="113.3" r="2.85"/>
<circle cx="739.8" cy="110.5" r="2.85"/>
<circle cx="730.3" cy="109.3" r="2.85"/>
<circle cx="736.1" cy="106.9" r="2.85"/>
<circle cx="733.9" cy="103.5" r="2.85"/>
<circle cx="750.2" cy="105.3" r="2.85"/>
<circle cx="721.1" cy="103.5" r="2.85"/>
<circle cx="719.9" cy="99.8" r="2.85"/>
<circle cx="742.6" cy="101.9" r="2.85"/>
<circle cx="745.9" cy="97.7" r="2.85"/>
<circle cx="741.4" cy="95.9" r="2.85"/>
<circle cx="747.7" cy="94.3" r="2.85"/>
<circle cx="737.3" cy="92.8" r="2.85"/>
<circle cx="747.1" cy="90.6" r="2.85"/>
<circle cx="727.5" cy="89.1" r="2.85"/>
<circle cx="748.4" cy="86.3" r="2.85"/>
<circle cx="741.2" cy="86.1" r="2.85"/>
<circle cx="728.4" cy="83.2" r="2.85"/>
<circle cx="747.1" cy="82.7" r="2.85"/>
<circle cx="773.3" cy="86.9" r="2.85"/>
<circle cx="718.8" cy="67.3" r="2.85"/>
<circle cx="723.7" cy="78.1" r="2.85"/>
<circle cx="725.2" cy="60.3" r="2.85"/>
<circle cx="732.6" cy="68.2" r="2.85"/>
<circle cx="733.5" cy="62.1" r="2.85"/>
<circle cx="733.8" cy="57.2" r="2.85"/>
<circle cx="736.5" cy="58.2" r="2.85"/>
<circle cx="739.9" cy="71.3" r="2.85"/>
<circle cx="738.7" cy="75.2" r="2.85"/>
<circle cx="747.1" cy="76.2" r="2.85"/>
<circle cx="746.4" cy="79.3" r="2.85"/>
<circle cx="752.6" cy="71.9" r="2.85"/>
<circle cx="753.2" cy="65.8" r="2.85"/>
<circle cx="746.1" cy="61.1" r="2.85"/>
<circle cx="748.9" cy="62.5" r="2.85"/>
<circle cx="760.8" cy="66.4" r="2.85"/>
<circle cx="766.3" cy="71.9" r="2.85"/>
<circle cx="770.3" cy="78.9" r="2.85"/>
<circle cx="746.1" cy="53.9" r="2.85"/>
<circle cx="749.1" cy="54.1" r="2.85"/>
<circle cx="751.8" cy="56.0" r="2.85"/>
<circle cx="738.1" cy="50.2" r="2.85"/>
<circle cx="750.1" cy="50.4" r="2.85"/>
<circle cx="762.7" cy="50.4" r="2.85"/>
<circle cx="735.3" cy="44.3" r="2.85"/>
<circle cx="751.4" cy="47.4" r="2.85"/>
<circle cx="753.1" cy="45.8" r="2.85"/>
<circle cx="748.5" cy="42.7" r="2.85"/>
<circle cx="742.1" cy="42.1" r="2.85"/>
<circle cx="741.6" cy="39.3" r="2.85"/>
<circle cx="753.5" cy="36.6" r="2.85"/>
<circle cx="759.9" cy="38.0" r="2.85"/>
<circle cx="757.8" cy="35.0" r="2.85"/>
<circle cx="737.4" cy="33.3" r="2.85"/>
<circle cx="746.1" cy="32.8" r="2.85"/>
<circle cx="721.3" cy="18.2" r="2.85"/>
<circle cx="740.1" cy="24.0" r="2.85"/>
<circle cx="738.9" cy="15.6" r="2.85"/>
<circle cx="742.6" cy="11.7" r="2.85"/>
<circle cx="744.7" cy="3.6" r="2.85"/>
<circle cx="748.1" cy="29.5" r="2.85"/>
<circle cx="749.3" cy="25.2" r="2.85"/>
<circle cx="749.3" cy="22.1" r="2.85"/>
<circle cx="756.4" cy="26.0" r="2.85"/>
<circle cx="755.2" cy="20.3" r="2.85"/>
<circle cx="754.2" cy="16.6" r="2.85"/>
<circle cx="756.4" cy="13.8" r="2.85"/>
<circle cx="749.3" cy="9.2" r="2.85"/>
<circle cx="751.8" cy="10.4" r="2.85"/>
<circle cx="751.2" cy="6.1" r="2.85"/>
<circle cx="756.4" cy="7.6" r="2.85"/>
<circle cx="764.1" cy="7.4" r="2.85"/>
<circle cx="766.8" cy="15.6" r="2.85"/>
<circle cx="770.8" cy="21.1" r="2.85"/>
<circle cx="773.9" cy="27.3" r="2.85"/>
</g>
<g fill="#000" opacity="0.999">
<text x="49.5" y="361.4" font-size="38.7" text-anchor="end">0</text>
<text x="49.5" y="271.5" font-size="38.7" text-anchor="end">0.2</text>
<text x="49.5" y="181.6" font-size="38.7" text-anchor="end">0.4</text>
<text x="49.5" y="91.8" font-size="38.7" text-anchor="end">0.6</text>
<text x="101.4" y="414" font-size="37" text-anchor="middle">0</text>
<text x="175.7" y="414" font-size="37" text-anchor="middle">0.5</text>
<text x="251.0" y="414" font-size="37" text-anchor="middle">1</text>
<text x="343.9" y="414" font-size="37" text-anchor="middle">0</text>
<text x="420.3" y="414" font-size="37" text-anchor="middle">0.5</text>
<text x="497.7" y="414" font-size="37" text-anchor="middle">1</text>
<text x="590.6" y="414" font-size="37" text-anchor="middle">0</text>
<text x="667.3" y="414" font-size="37" text-anchor="middle">0.5</text>
<text x="744.9" y="414" font-size="37" text-anchor="middle">1</text>
<text transform="translate(25.0,43.2) scale(1.07,1)" x="0" y="0" font-size="50.6">E</text>
<text transform="translate(786.5,424) scale(0.96,1)" x="0" y="0" font-size="51">x</text>
<text transform="translate(97.4,46.6) scale(1.10,0.985)" x="0" y="0" font-size="36">β</text>
<text x="116.4" y="58.4" font-size="30">0</text>
<rect x="139.2" y="33.7" width="17.9" height="2.2"/><rect x="139.2" y="42.0" width="17.9" height="2.2"/>
<text transform="translate(168.0,47.9) scale(0.945,1)" x="0" y="0" font-size="36">1.0</text>
<text transform="translate(340.7,46.6) scale(1.10,0.985)" x="0" y="0" font-size="36">β</text>
<text x="359.7" y="58.4" font-size="30">0</text>
<rect x="382.5" y="33.7" width="17.9" height="2.2"/><rect x="382.5" y="42.0" width="17.9" height="2.2"/>
<text transform="translate(410.8,47.9) scale(0.915,1)" x="0" y="0" font-size="36">1.3</text>
<text transform="translate(587.4,46.6) scale(1.10,0.985)" x="0" y="0" font-size="36">β</text>
<text x="606.4" y="58.4" font-size="30">0</text>
<rect x="629.2" y="33.7" width="17.9" height="2.2"/><rect x="629.2" y="42.0" width="17.9" height="2.2"/>
<text transform="translate(657.5,47.9) scale(0.915,1)" x="0" y="0" font-size="36">1.5</text>
<text x="116.0" y="131.3" font-size="46.6">(a)</text>
<text x="358.2" y="131.3" font-size="46.6">(b)</text>
<text x="606.0" y="131.3" font-size="46.6">(c)</text>
</g>
</svg></body></html>
